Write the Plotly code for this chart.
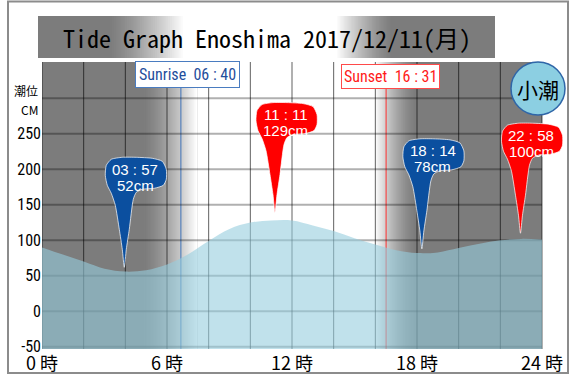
import plotly.graph_objects as go

# ---------------- data ----------------
hours = list(range(25))
tide_cm = [90, 80, 70, 60, 56, 58, 66, 80, 99, 116, 125, 128, 128, 121, 113, 103,
           94, 86, 82, 83, 89, 95, 100, 102, 101]

ext_times = ["03:57", "11:11", "18:14", "22:58"]
ext_cm = [52, 129, 78, 100]
ext_kind = ["low", "high", "low", "high"]

sunrise = "06:40"
sunset = "16:31"
title_text = "Tide Graph Enoshima 2017/12/11(月)"
tide_name = "小潮"
y_title_lines = ["潮位", "CM"]

x_tickvals = [0, 6, 12, 18, 24]
x_ticktext = ["0 時", "6 時", "12 時", "18 時", "24 時"]
y_tickvals = [-50, 0, 50, 100, 150, 200, 250]
y_ticktext = ["-50", "0", "50", "100", "150", "200", "250"]
y_grid = [-50, 0, 50, 100, 150, 200, 250, 300]
x_grid = list(range(0, 25, 2))

# ---------------- geometry / style ----------------
W, H = 573, 376
PX_L, PX_R = 42, 567
PLOT_TOP, PLOT_BOT = 62, 349
X_MAX = 25.2
Y_MIN, Y_MAX = -53, 351
PXH = (PX_R - PX_L) / X_MAX
PXC = (PLOT_BOT - PLOT_TOP) / (Y_MAX - Y_MIN)
GRAY = 124
NARROW = "Liberation Sans Narrow, Arial Narrow, Roboto Condensed, Liberation Sans"


def to_h(s):
    h, m = s.split(":")
    return int(h) + int(m) / 60


def paper_x(px):
    return (px - PX_L) / (PX_R - PX_L)


def paper_y(py):
    return (PLOT_BOT - py) / (PLOT_BOT - PLOT_TOP)


def gcol(t):
    v = int(round(GRAY + (255 - GRAY) * t))
    return f"rgb({v},{v},{v})"


shapes = []

# night shading with gradients (stacked rects, later ones on top -> no seams)
sr, ss = to_h(sunrise), to_h(sunset)
g1a, g1b = sr - 1.82, sr + 0.78
g2a, g2b = ss - 0.52, ss + 1.48
N = 60
shapes.append(dict(type="rect", xref="x", yref="paper", x0=0, x1=g1b, y0=0, y1=1,
                   fillcolor=gcol(0), line_width=0, layer="below"))
for i in range(N):
    t = (i + 1) / N
    shapes.append(dict(type="rect", xref="x", yref="paper",
                       x0=g1a + (g1b - g1a) * i / N, x1=g1b,
                       y0=0, y1=1, fillcolor=gcol(t ** 1.5), line_width=0, layer="below"))
for i in range(N):
    t = 1 - (i + 1) / N
    shapes.append(dict(type="rect", xref="x", yref="paper",
                       x0=g2a + (g2b - g2a) * i / N, x1=24,
                       y0=0, y1=1, fillcolor=gcol(t ** 1.5), line_width=0, layer="below"))

# grid lines
for v in y_grid:
    shapes.append(dict(type="line", xref="x", yref="y", x0=0, x1=24, y0=v, y1=v,
                       line=dict(color="rgba(0,0,0,0.31)", width=2), layer="below"))
for v in x_grid:
    shapes.append(dict(type="line", xref="x", yref="paper", x0=v, x1=v, y0=0, y1=1,
                       line=dict(color="rgba(0,0,0,0.62)", width=1), layer="below"))

# sunrise / sunset lines
shapes.append(dict(type="line", xref="x", yref="paper", x0=sr, x1=sr, y0=0, y1=paper_y(88),
                   line=dict(color="#3f72b8", width=1), layer="below"))
shapes.append(dict(type="line", xref="x", yref="paper", x0=ss, x1=ss, y0=0, y1=paper_y(88),
                   line=dict(color="#ff3030", width=1), layer="below"))

# title box gradient
TB_L, TB_R, TB_T, TB_B = 38, 495, 16, 58
ya, yb = paper_y(TB_B), paper_y(TB_T)
shapes.append(dict(type="rect", xref="paper", yref="paper", x0=paper_x(TB_L), x1=paper_x(185),
                   y0=ya, y1=yb, fillcolor=gcol(0), line_width=0))
n = 40
for i in range(n):
    t = (i + 1) / n
    shapes.append(dict(type="rect", xref="paper", yref="paper",
                       x0=paper_x(110 + (185 - 110) * i / n), x1=paper_x(185),
                       y0=ya, y1=yb, fillcolor=gcol(t ** 1.3), line_width=0))
shapes.append(dict(type="rect", xref="paper", yref="paper", x0=paper_x(185), x1=paper_x(TB_R),
                   y0=ya, y1=yb, fillcolor="white", line_width=0))
for i in range(n):
    t = 1 - (i + 1) / n
    shapes.append(dict(type="rect", xref="paper", yref="paper",
                       x0=paper_x(337 + (393 - 337) * i / n), x1=paper_x(TB_R),
                       y0=ya, y1=yb, fillcolor=gcol(t ** 1.3), line_width=0))

# outer frame
shapes.append(dict(type="rect", xref="paper", yref="paper", x0=paper_x(8), x1=paper_x(568),
                   y0=paper_y(373), y1=paper_y(1.5), line=dict(color="#8c8c8c", width=2),
                   fillcolor="rgba(0,0,0,0)", layer="above"))

# tide-name circle
shapes.append(dict(type="circle", xref="paper", yref="paper", x0=paper_x(511), x1=paper_x(565),
                   y0=paper_y(115), y1=paper_y(62), fillcolor="#8ccfe2",
                   line=dict(color="#2f66a8", width=1.5), layer="above"))

fig = go.Figure()
fig.add_trace(go.Scatter(x=hours, y=[Y_MIN] * len(hours), mode="lines", line=dict(width=0),
                         hoverinfo="skip", showlegend=False))
fig.add_trace(go.Scatter(x=hours, y=tide_cm, mode="lines", fill="tonexty",
                         fillcolor="rgba(150,205,222,0.6)", line=dict(width=0, shape="spline"),
                         hoverinfo="skip", showlegend=False))

# pin template, pixel offsets from the tip (dy negative = up)
PIN = [(0, 0), (-2, -18), (-5, -38), (-9, -62), (-13, -74), (-17, -82), (-19, -92), (-18, -102),
       (-13, -108), (-2, -110), (12, -110), (28, -109), (38, -106), (42, -98), (42, -88),
       (39, -82), (30, -79), (18, -78), (12, -75), (9, -68), (5, -38), (2, -18), (0, 0)]
TIP_OFF = 10

annotations = []
for tm, cm, kind in zip(ext_times, ext_cm, ext_kind):
    xh = to_h(tm)
    yt = cm + TIP_OFF
    col = "#0b4f9f" if kind == "low" else "#ff0000"
    fig.add_trace(go.Scatter(x=[xh + dx / PXH for dx, dy in PIN],
                             y=[yt - dy / PXC for dx, dy in PIN],
                             mode="lines", fill="toself", fillcolor=col,
                             line=dict(color="rgba(255,255,255,0.7)", width=1, shape="spline",
                                       smoothing=0.6),
                             hoverinfo="skip", showlegend=False))
    for txt, ys in ((tm.replace(":", " : "), 98), (f"{cm}cm", 82)):
        annotations.append(dict(x=xh, y=yt, xref="x", yref="y", xshift=11, yshift=ys,
                                xanchor="center", yanchor="middle", text=txt, showarrow=False,
                                font=dict(family="Liberation Sans, Arial", size=15, color="white")))

for txt, py in zip(y_title_lines, (91, 110)):
    annotations.append(dict(x=paper_x(40), y=paper_y(py), xref="paper", yref="paper",
                            xanchor="right", yanchor="middle", text=txt, showarrow=False,
                            font=dict(family="Noto Sans CJK JP", size=12, color="black")))

annotations += [
    dict(x=sr, y=paper_y(75), xref="x", yref="paper", xshift=7, xanchor="center", yanchor="middle",
         text="Sunrise\u00a0\u00a0" + sunrise.replace(":", " : "), showarrow=False,
         font=dict(family=NARROW, size=16, color="#1f4e9c"),
         bgcolor="white", bordercolor="#4a7cc0", borderwidth=1, borderpad=3),
    dict(x=ss, y=paper_y(76.5), xref="x", yref="paper", xshift=4, xanchor="center", yanchor="middle",
         text="Sunset\u00a0\u00a0" + sunset.replace(":", " : "), showarrow=False,
         font=dict(family=NARROW, size=16, color="#ff1a1a"),
         bgcolor="white", bordercolor="#ff4a4a", borderwidth=1, borderpad=2),
    dict(x=paper_x(266.5), y=paper_y(37), xref="paper", yref="paper", text=title_text,
         xanchor="center", yanchor="middle",
         showarrow=False, font=dict(family="Noto Sans Mono CJK JP, Noto Sans CJK JP", size=24,
                                    color="black")),
    dict(x=paper_x(538), y=paper_y(89), xref="paper", yref="paper", text=tide_name,
         xanchor="center", yanchor="middle",
         showarrow=False, font=dict(family="Noto Sans CJK JP", size=21, color="black")),
]

fig.update_layout(
    template="none",
    width=W, height=H, margin=dict(l=PX_L, r=W - PX_R, t=PLOT_TOP, b=H - PLOT_BOT, pad=0,
                                   autoexpand=False),
    paper_bgcolor="white", plot_bgcolor="white", showlegend=False,
    shapes=shapes, annotations=annotations,
    xaxis=dict(range=[0, X_MAX], tickvals=x_tickvals, ticktext=x_ticktext, showgrid=False,
               zeroline=False, showline=False, ticks="", fixedrange=True, automargin=False,
               ticklabelstandoff=2,
               tickfont=dict(family="Noto Sans CJK JP", size=18, color="black")),
    yaxis=dict(range=[Y_MIN, Y_MAX], tickvals=y_tickvals, ticktext=y_ticktext, showgrid=False,
               zeroline=False, showline=False, ticks="", fixedrange=True, automargin=False,
               ticklabelstandoff=0,
               tickfont=dict(family=NARROW, size=16, color="black")),
)

fig.write_html("out.html", config={"displayModeBar": False},
               post_script="document.body.style.margin='0';")
